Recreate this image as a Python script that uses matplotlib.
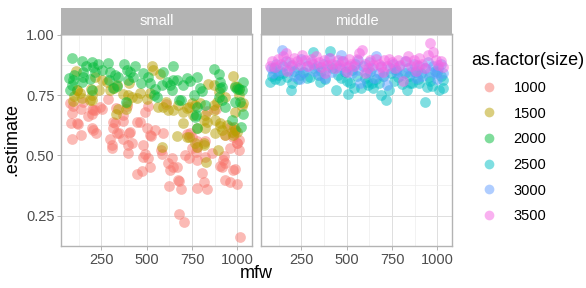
import numpy as np
import matplotlib
matplotlib.use("Agg")
import matplotlib.pyplot as plt
from matplotlib.lines import Line2D

plt.rcParams['font.family'] = ['Liberation Sans', 'DejaVu Sans']

## data: (mfw, .estimate) per size
size_1000 = [(77,0.717),(95,0.703),(136,0.694),(89,0.676),(82,0.635),(114,0.632),(123,0.629),
    (137,0.584),(89,0.566),(178,0.662),(196,0.694),(205,0.687),(196,0.673),(242,0.701),(200,0.612),
    (220,0.594),(285,0.735),(298,0.566),(312,0.612),(325,0.635),(331,0.698),(338,0.591),(371,0.666),
    (404,0.594),(445,0.639),(491,0.680),(546,0.605),(592,0.591),(607,0.712),(721,0.588),(748,0.577),
    (776,0.561),(776,0.536),(881,0.690),(956,0.618),(982,0.591),(997,0.550),(1011,0.563),(368,0.643),
    (390,0.703),(506,0.703),(150,0.721),(215,0.687),(252,0.694),(316,0.639),(408,0.598),(463,0.639),
    (500,0.612),(518,0.584),(204,0.605),(310,0.543),(307,0.529),(347,0.591),(369,0.567),(397,0.543),
    (397,0.509),(417,0.550),(445,0.422),(472,0.433),(481,0.543),(481,0.492),(491,0.506),(509,0.488),
    (524,0.581),(518,0.451),(583,0.506),(577,0.522),(619,0.470),(641,0.488),(643,0.451),(629,0.440),
    (669,0.453),(625,0.371),(674,0.399),(680,0.392),(688,0.360),(677,0.255),(706,0.225),(708,0.502),
    (735,0.488),(748,0.529),(772,0.515),(776,0.481),(779,0.364),(804,0.426),(813,0.388),(822,0.559),
    (822,0.495),(831,0.360),(859,0.509),(905,0.456),(920,0.481),(923,0.498),(932,0.467),(914,0.451),
    (932,0.399),(960,0.388),(978,0.440),(987,0.443),(997,0.382),(978,0.577),(1000,0.550),(1006,0.522),
    (1015,0.163),(960,0.529),(831,0.684),(739,0.591),(932,0.584),(987,0.605)]

size_1500 = [(110,0.848),(117,0.772),(132,0.758),(100,0.746),(91,0.724),(141,0.738),(187,0.728),
    (196,0.749),(191,0.776),(215,0.824),(252,0.811),(279,0.804),(238,0.772),(298,0.772),(320,0.779),
    (338,0.790),(404,0.799),(398,0.749),(417,0.742),(445,0.738),(393,0.715),(386,0.694),(343,0.694),
    (331,0.673),(371,0.755),(463,0.758),(500,0.735),(518,0.758),(528,0.872),(533,0.852),(564,0.701),
    (588,0.701),(619,0.687),(646,0.687),(607,0.721),(666,0.580),(702,0.632),(721,0.698),(748,0.715),
    (757,0.666),(776,0.612),(767,0.550),(813,0.550),(822,0.612),(831,0.639),(868,0.708),(886,0.721),
    (905,0.621),(917,0.605),(932,0.584),(974,0.827),(987,0.786),(1006,0.776),(1011,0.749),(982,0.618),
    (997,0.598),(1024,0.703),(583,0.536),(721,0.574),(827,0.474),(892,0.522),(978,0.584),(776,0.533),
    (730,0.577),(813,0.543),(574,0.838),(840,0.797),(868,0.790),(997,0.783),(896,0.762),(932,0.742),
    (674,0.708),(767,0.708),(794,0.715),(702,0.680),(730,0.701),(822,0.666),(868,0.687),(987,0.680),
    (1033,0.715),(877,0.646),(941,0.625),(987,0.605),(813,0.646),(905,0.632),(969,0.598),(877,0.594),
    (114,0.769),(196,0.728)]

size_2000 = [(86,0.902),(141,0.890),(73,0.822),(77,0.772),(86,0.790),(95,0.811),(150,0.845),
    (147,0.824),(141,0.804),(187,0.817),(196,0.886),(205,0.865),(215,0.845),(233,0.879),(196,0.769),
    (288,0.883),(298,0.845),(294,0.811),(325,0.831),(343,0.824),(316,0.780),(375,0.879),(393,0.852),
    (408,0.845),(436,0.872),(423,0.824),(386,0.721),(481,0.842),(504,0.824),(518,0.799),(546,0.776),
    (537,0.749),(555,0.742),(583,0.790),(592,0.845),(610,0.804),(629,0.790),(638,0.769),(643,0.811),
    (666,0.813),(646,0.872),(721,0.822),(739,0.808),(680,0.731),(689,0.728),(761,0.749),(791,0.780),
    (804,0.767),(776,0.701),(772,0.666),(779,0.614),(822,0.708),(868,0.859),(896,0.838),(905,0.804),
    (905,0.780),(896,0.742),(914,0.728),(932,0.701),(969,0.646),(987,0.721),(1011,0.776),(1024,0.769),
    (1033,0.804),(997,0.776),(1033,0.673),(1020,0.616),(1015,0.721),(338,0.786),(398,0.811),(987,0.783),
    (776,0.824),(914,0.783),(767,0.660),(100,0.835),(165,0.870),(255,0.855),(470,0.800),(700,0.790)]

size_2500 = [(77,0.804),(90,0.830),(105,0.815),(132,0.811),(150,0.840),(170,0.825),(193,0.769),
    (210,0.850),(242,0.831),(260,0.845),(280,0.820),(297,0.824),(320,0.860),(343,0.831),(360,0.850),
    (380,0.815),(408,0.934),(316,0.927),(441,0.769),(454,0.835),(470,0.820),(490,0.845),(505,0.753),
    (520,0.800),(537,0.780),(555,0.830),(579,0.780),(600,0.820),(619,0.790),(630,0.845),(647,0.780),
    (660,0.815),(689,0.749),(700,0.830),(716,0.731),(730,0.772),(745,0.840),(760,0.810),(780,0.825),
    (803,0.797),(831,0.772),(845,0.830),(859,0.799),(875,0.845),(890,0.815),(910,0.840),(929,0.721),
    (942,0.783),(955,0.825),(969,0.786),(985,0.850),(1006,0.769),(1020,0.830),(1033,0.780),(1033,0.811),
    (120,0.835),(230,0.815),(350,0.805),(420,0.860),(530,0.855),(610,0.805),(680,0.800),(770,0.855),
    (820,0.840),(900,0.800),(960,0.810),(1000,0.845),(100,0.860),(200,0.800),(500,0.810),(640,0.800),
    (850,0.800)]

size_3000 = [(80,0.860),(95,0.840),(110,0.880),(130,0.850),(150,0.870),(165,0.890),(180,0.855),
    (200,0.875),(210,0.830),(230,0.860),(250,0.900),(265,0.845),(280,0.870),(300,0.885),(320,0.850),
    (335,0.870),(355,0.835),(370,0.880),(390,0.860),(400,0.905),(420,0.845),(440,0.875),(460,0.860),
    (475,0.890),(490,0.850),(510,0.870),(530,0.840),(545,0.880),(560,0.855),(575,0.800),(590,0.870),
    (610,0.845),(625,0.885),(640,0.860),(660,0.910),(675,0.840),(690,0.870),(705,0.830),(720,0.790),
    (740,0.860),(755,0.880),(770,0.845),(790,0.870),(805,0.835),(820,0.890),(840,0.860),(855,0.845),
    (870,0.880),(885,0.850),(900,0.870),(915,0.830),(930,0.860),(945,0.885),(960,0.845),(975,0.870),
    (990,0.840),(1005,0.860),(1020,0.880),(1030,0.840),(145,0.935),(470,0.915),(560,0.895),(240,0.815),
    (380,0.820),(650,0.820),(880,0.820),(1000,0.815)]

size_3500 = [(75,0.870),(90,0.890),(105,0.865),(120,0.900),(135,0.880),(150,0.910),(165,0.925),
    (180,0.885),(195,0.870),(210,0.905),(225,0.890),(240,0.875),(255,0.915),(270,0.895),(285,0.870),
    (300,0.900),(315,0.880),(330,0.910),(345,0.885),(360,0.865),(375,0.895),(390,0.875),(405,0.905),
    (420,0.880),(435,0.860),(450,0.895),(465,0.875),(480,0.890),(495,0.865),(510,0.900),(525,0.880),
    (540,0.870),(555,0.900),(570,0.925),(585,0.935),(600,0.880),(615,0.860),(630,0.895),(645,0.875),
    (660,0.900),(675,0.880),(690,0.865),(705,0.895),(720,0.870),(735,0.900),(750,0.885),(765,0.860),
    (780,0.895),(795,0.875),(810,0.810),(825,0.890),(840,0.910),(855,0.870),(870,0.895),(885,0.875),
    (900,0.905),(915,0.880),(930,0.860),(945,0.915),(960,0.965),(975,0.930),(990,0.895),(1005,0.875),
    (1020,0.890),(1030,0.865),(500,0.845),(170,0.850),(380,0.840),(700,0.845),(880,0.850),(600,0.840)]

sizes = ['1000', '1500', '2000', '2500', '3000', '3500']
series = [size_1000, size_1500, size_2000, size_2500, size_3000, size_3500]
colors = ['#F8766D', '#B79F00', '#00BA38', '#00BFC4', '#619CFF', '#F564E3']
facets = ['small', 'middle']
facet_members = [[0, 1, 2], [3, 4, 5]]

x_ticks = [250, 500, 750, 1000]
y_ticks = [0.25, 0.50, 0.75, 1.00]

W, H = 586, 288
fig = plt.figure(figsize=(W / 100, H / 100), dpi=100)

panel_left = [61, 261]
panel_w, panel_top, panel_bot = 191, 33.5, 246
strip_top = 8

for k, name in enumerate(facets):
    x0 = panel_left[k] / W
    ax = fig.add_axes([x0, 1 - panel_bot / H, panel_w / W, (panel_bot - panel_top) / H])
    for i in facet_members[k]:
        pts = np.array(series[i])
        ax.scatter(pts[:, 0], pts[:, 1], s=60, color=colors[i], alpha=0.5,
                   linewidths=0, zorder=3)
    ax.set_xlim(27, 1080)
    ax.set_ylim(0.124, 1.005)
    ax.set_xticks(x_ticks)
    ax.set_xticks([125, 375, 625, 875], minor=True)
    ax.set_yticks(y_ticks)
    ax.set_yticks([0.375, 0.625, 0.875], minor=True)
    ax.set_xticklabels([str(t) for t in x_ticks])
    ax.set_yticklabels(['%.2f' % t for t in y_ticks])
    ax.grid(which='major', color='#DEDEDE', linewidth=0.7, zorder=0)
    ax.grid(which='minor', color='#EDEDED', linewidth=0.5, zorder=0)
    ax.set_axisbelow(True)
    for sp in ax.spines.values():
        sp.set_color('#B3B3B3')
        sp.set_linewidth(1.0)
    ax.tick_params(which='major', length=2.75, color='#B3B3B3', width=0.7,
                   labelsize=10.5, labelcolor='#4D4D4D', pad=2)
    ax.tick_params(which='minor', length=0)
    if k == 1:
        ax.tick_params(axis='y', which='both', length=0, labelleft=False)

    # facet strip
    sax = fig.add_axes([x0, 1 - panel_top / H, panel_w / W, (panel_top - strip_top) / H])
    sax.set_facecolor('#B3B3B3')
    sax.set_xticks([]), sax.set_yticks([])
    for sp in sax.spines.values():
        sp.set_visible(False)
    sax.text(0.5, 0.5, name, color='white', fontsize=10.5, ha='center', va='center',
             transform=sax.transAxes)

fig.text((61 + 452) / 2 / W, 1 - 274 / H, 'mfw', fontsize=13, ha='center', va='center')
fig.text(12 / W, 1 - 140 / H, '.estimate', fontsize=13, ha='center', va='center',
         rotation=90)

handles = [Line2D([], [], marker='o', linestyle='', markersize=7, color=c, alpha=0.5,
                  markeredgewidth=0) for c in colors]
fig.legend(handles, sizes, title='as.factor(size)', loc='upper left',
           bbox_to_anchor=(461 / W, 1 - 42 / H), frameon=False, fontsize=10.5,
           title_fontsize=13, labelspacing=0.8, handletextpad=0.5, handlelength=2.4,
           alignment='left', borderaxespad=0.3)

fig.savefig('out.png', dpi=100)
